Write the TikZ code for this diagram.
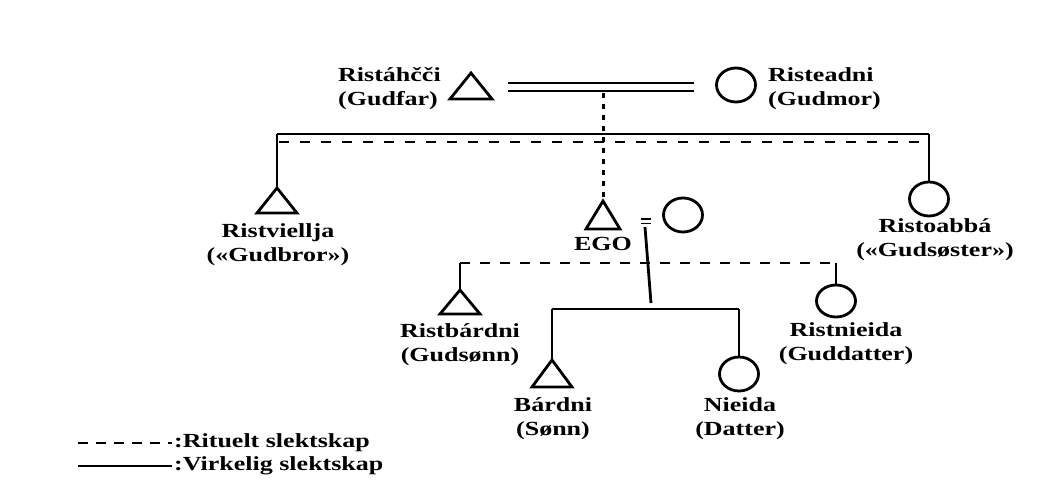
\documentclass[tikz,border=0pt]{standalone}
\usepackage{fontspec}
\usetikzlibrary{shapes.geometric}
\setmainfont[FakeStretch=1.3]{Liberation Serif}
\begin{document}
\begin{tikzpicture}[x=1pt,y=-1pt,
  lw/.style={line width=2.8pt},
  real/.style={lw},
  ritual/.style={lw,dash pattern=on 10pt off 11pt},
  ritdot/.style={line width=3pt,dash pattern=on 5pt off 6pt},
  fem/.style={ellipse,draw,lw,minimum width=39pt,minimum height=34pt,inner sep=0pt},
  tri/.style={lw,line join=miter},
  lab/.style={font=\fontsize{20}{24}\selectfont\bfseries,align=center,inner sep=0pt}]
\useasboundingbox[fill=white] (0,0) rectangle (1058,497);
% top couple
\coordinate (gfar) at (471,73);
\draw[tri] (gfar) -- ++(-21,26) -- ++(42,0) -- cycle;
\node[lab,align=left,anchor=west] (gfarL) at (338,89) {Ristáhčči\\(Gudfar)};
\node[fem] (gmor) at (736,85) {};
\node[lab,align=left,anchor=west] (gmorL) at (768,89) {Risteadni\\(Gudmor)};
\coordinate (m1a) at (508,83); \coordinate (m1b) at (694,83);
\coordinate (m2a) at (508,91); \coordinate (m2b) at (694,91);
\draw[line width=2.2pt] (m1a) -- (m1b);
\draw[line width=2.2pt] (m2a) -- (m2b);
\coordinate (mid) at (603,93);
% sibling bars
\coordinate (barL) at (277,134); \coordinate (barR) at (929,134);
\coordinate (dbarL) at (279,142); \coordinate (dbarR) at (921,142);
\draw[real] (barL) -- (barR);
\draw[ritual] (dbarL) -- (dbarR);
% Ristviellja
\coordinate (bro) at (277,188);
\draw[tri] (bro) -- ++(-20,25) -- ++(40,0) -- cycle;
\draw[real] (barL) -- (bro);
\node[lab] (broL) at (278,245) {Ristviellja\\(«Gudbror»)};
% Ristoabbá
\node[fem] (sis) at (929,199) {};
\draw[real] (barR) -- (sis.north);
\node[lab] (sisL) at (935,240) {Ristoabbá\\(«Gudsøster»)};
% EGO
\coordinate (ego) at (603,201);
\draw[tri] (ego) -- ++(-17,28) -- ++(34,0) -- cycle;
\draw[ritdot] (mid) -- (ego);
\node[lab] (egoL) at (603,244) {EGO};
\node[fem] (wife) at (683,215) {};
\coordinate (e1a) at (641,219); \coordinate (e1b) at (651,219);
\coordinate (e2a) at (641,223.5); \coordinate (e2b) at (651,223.5);
\draw[line width=1.6pt] (e1a) -- (e1b);
\draw[line width=1.6pt] (e2a) -- (e2b);
\coordinate (cpl) at (645,227);
\coordinate (kid) at (651,303);
\draw[real] (cpl) -- (kid);
% godchildren
\coordinate (gcL) at (460,263); \coordinate (gcR) at (836,263);
\draw[ritual,dash pattern=on 10pt off 10pt] (gcL) -- (gcR);
\coordinate (gson) at (460,290);
\draw[tri] (gson) -- ++(-20,24) -- ++(40,0) -- cycle;
\draw[real] (gcL) -- (gson);
\node[lab] (gsonL) at (460,345) {Ristbárdni\\(Gudsønn)};
\node[fem,minimum height=32pt] (gdau) at (836,301) {};
\draw[real] (gcR) -- (gdau.north);
\node[lab] (gdauL) at (846,344) {Ristnieida\\(Guddatter)};
% children
\coordinate (chL) at (552,309); \coordinate (chR) at (739,309);
\draw[real] (chL) -- (chR);
\coordinate (son) at (552,360);
\draw[tri] (son) -- ++(-20,27) -- ++(40,0) -- cycle;
\draw[real] (chL) -- (son);
\node[lab] (sonL) at (553,419) {Bárdni\\(Sønn)};
\node[fem] (dau) at (739,374) {};
\draw[real] (chR) -- (dau.north);
\node[lab] (dauL) at (740,419) {Nieida\\(Datter)};
% legend
\coordinate (l1a) at (78,443); \coordinate (l1b) at (172,443);
\coordinate (l2a) at (78,466); \coordinate (l2b) at (172,466);
\draw[ritual,dash pattern=on 10pt off 8pt] (l1a) -- (l1b);
\draw[real] (l2a) -- (l2b);
\node[lab,anchor=west] (leg1) at (174,443) {:Rituelt slektskap};
\node[lab,anchor=west] (leg2) at (174,466) {:Virkelig slektskap};
\end{tikzpicture}
\end{document}
